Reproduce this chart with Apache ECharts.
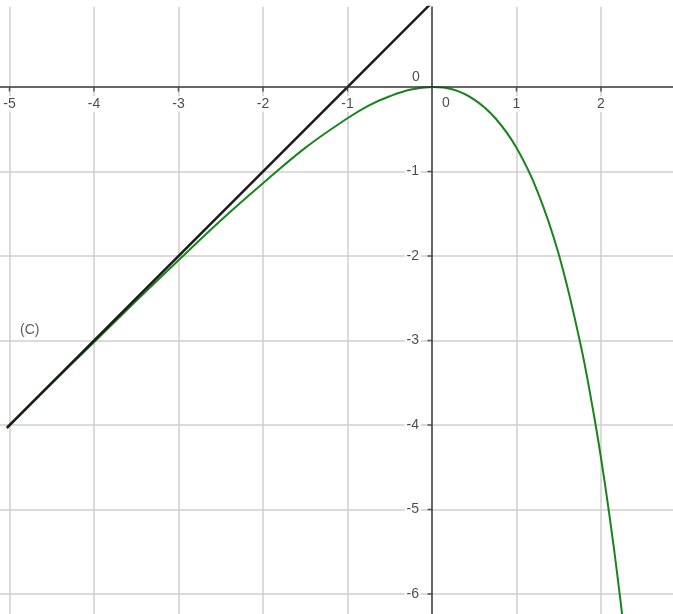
<!DOCTYPE html>
<html>
<head>
<meta charset="utf-8">
<script src="https://cdn.jsdelivr.net/npm/echarts@6/dist/echarts.min.js"></script>
<style>
  html, body { margin: 0; padding: 0; background: #fff; }
  #chart { width: 673px; height: 614px; }
</style>
</head>
<body>
<div id="chart"></div>
<script>
// Axis tick values (0 is labelled separately near the origin)
const xTicks = [-5, -4, -3, -2, -1, 1, 2];
const yTicks = [-6, -5, -4, -3, -2, -1];
const xGrid = [-5, -4, -3, -2, -1, 1, 2];
const yGrid = [-6, -5, -4, -3, -2, -1];

// Curve (C)
const curveX = [-5.03, -4.5, -4, -3.5, -3, -2.5, -2, -1.5, -1, -0.75, -0.5, -0.25, 0,
                0.25, 0.5, 0.75, 1, 1.25, 1.5, 1.75, 1.9, 2, 2.1, 2.2, 2.3];
const curveY = [-4.04, -3.51, -3.02, -2.53, -2.05, -1.58, -1.14, -0.72, -0.37, -0.22, -0.11, -0.03, 0,
                -0.03, -0.15, -0.37, -0.72, -1.24, -1.98, -3.01, -3.79, -4.39, -5.07, -5.83, -6.67];

// Oblique asymptote y = x + 1
const asymX = [-5.03, 0];
const asymY = [-4.03, 1];

// Position of the curve name
const curveName = '(C)';
const curveNamePos = [-4.76, -2.88];

// Visible window
const X_MIN = -5.112, X_MAX = 2.852;
const Y_MIN = -6.237, Y_MAX = 0.947;

const zip = (a, b) => a.map((v, i) => [v, b[i]]);
const font = 'Liberation Sans, Arial, sans-serif';
const tickText = { color: '#1e1e1e', fontSize: 14, fontFamily: font, backgroundColor: '#fff' };

const chart = echarts.init(document.getElementById('chart'), null, { renderer: 'canvas' });
chart.setOption({
  animation: false,
  backgroundColor: '#fff',
  grid: { left: 0, right: 0, top: 7, bottom: 0, containLabel: false, outerBoundsMode: 'none' },
  xAxis: {
    type: 'value', min: X_MIN, max: X_MAX, z: 10,
    axisLine: { onZero: true, lineStyle: { color: '#333', width: 1.5 } },
    axisTick: { show: false },
    axisLabel: { show: false },
    splitLine: { show: false }
  },
  yAxis: {
    type: 'value', min: Y_MIN, max: Y_MAX, z: 10,
    axisLine: { onZero: true, lineStyle: { color: '#333', width: 1.5 } },
    axisTick: { show: false },
    axisLabel: { show: false },
    splitLine: { show: false }
  },
  series: [
    {
      // grid lines
      type: 'line', data: [], z: 1, silent: true,
      markLine: {
        z: 1, silent: true, symbol: ['none', 'none'], label: { show: false },
        emphasis: { disabled: true },
        lineStyle: { color: '#cfcfcf', width: 1.5, type: 'solid' },
        data: [...xGrid.map(v => ({ xAxis: v })), ...yGrid.map(v => ({ yAxis: v }))]
      }
    },
    {
      type: 'line', data: zip(curveX, curveY), smooth: 0.4, showSymbol: false, z: 3,
      lineStyle: { color: '#17851a', width: 2 }
    },
    {
      type: 'line', data: zip(asymX, asymY), showSymbol: false, z: 4,
      lineStyle: { color: '#1c1c1c', width: 2.5 }
    },
    {
      // small tick marks below the horizontal axis
      type: 'scatter', symbol: 'rect', symbolSize: [1.5, 4], symbolOffset: [0, 2.5],
      z: 11, silent: true, itemStyle: { color: '#333' },
      data: xTicks.map(v => [v, 0])
    },
    {
      // small tick marks left of the vertical axis
      type: 'scatter', symbol: 'rect', symbolSize: [4, 1.5], symbolOffset: [-2.5, 0],
      z: 11, silent: true, itemStyle: { color: '#333' },
      data: yTicks.map(v => [0, v])
    },
    {
      // x tick labels under the horizontal axis
      type: 'scatter', symbolSize: 0, z: 12, silent: true,
      data: xTicks.map(v => [v, 0]),
      label: Object.assign({ show: true, position: 'inside', offset: [0, 17], padding: [1, 1],
        formatter: p => String(p.value[0]) }, tickText)
    },
    {
      // y tick labels left of the vertical axis
      type: 'scatter', symbolSize: 0, z: 12, silent: true,
      data: yTicks.map(v => [0, v]),
      label: Object.assign({ show: true, position: 'left', distance: 11, padding: [1, 2],
        formatter: p => String(p.value[1]) }, tickText)
    },
    {
      type: 'scatter', symbolSize: 0, z: 12, silent: true,
      label: { show: true, position: 'inside', color: '#1e1e1e', fontSize: 14, fontFamily: font },
      data: [
        { value: [0, 0], label: { formatter: '0', offset: [14, 16] } },
        { value: [0, 0], label: { formatter: '0', offset: [-16, -10] } },
        { value: curveNamePos, label: { formatter: curveName, color: '#333' } }
      ]
    }
  ]
});
</script>
</body>
</html>
